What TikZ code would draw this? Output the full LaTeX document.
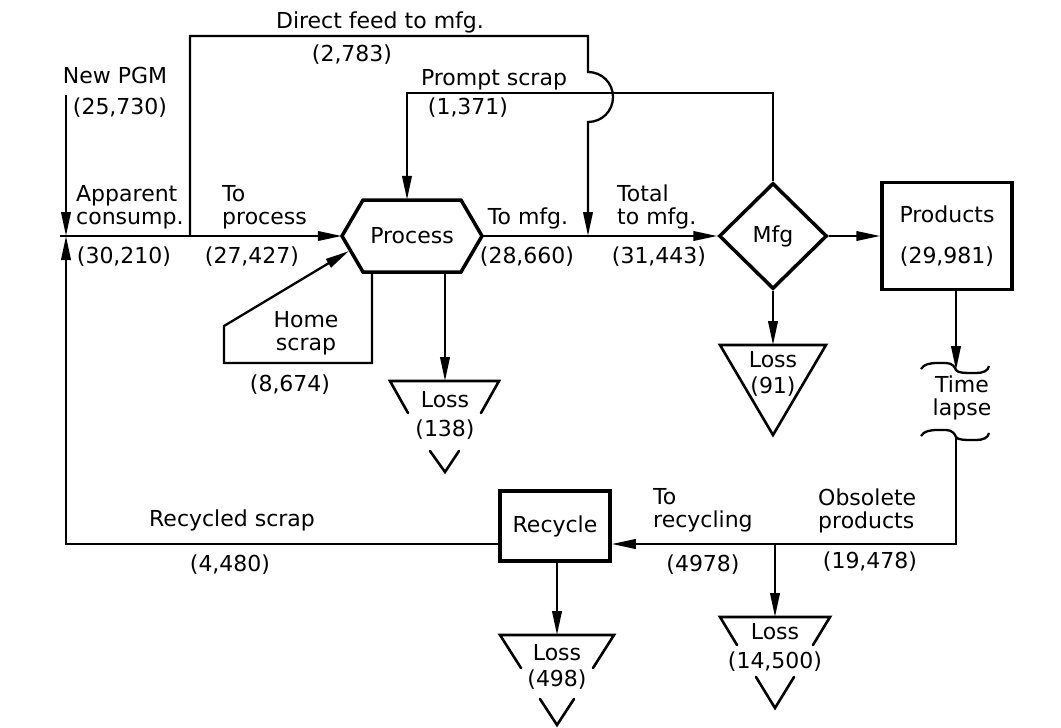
\documentclass[tikz,border=0pt]{standalone}
\usepackage{fontspec}
\setmainfont{DejaVu Sans}
\usetikzlibrary{arrows.meta,shapes.geometric,calc}
\begin{document}
\begin{tikzpicture}[x=1pt,y=-1pt,
  flow/.style={line width=2.3pt},
  arr/.style={flow,-{Triangle[length=24pt,width=9.5pt]}},
  box/.style={draw,line width=3.5pt,inner sep=0pt},
  lbl/.style={inner sep=0pt,font=\fontsize{22}{23}\selectfont,align=center},
  lbll/.style={lbl,align=left,anchor=west},
  tri/.style={line width=2.6pt,line cap=round,line join=miter},
]
\useasboundingbox (0,0) rectangle (1061,728);

% ---------- main shapes ----------
\node[lbl,minimum width=140pt,minimum height=72pt] (proc) at (412,236) {Process};
\draw[box] (342,236) -- (363,200) -- (461,200) -- (482,236) -- (461,272) -- (363,272) -- cycle;

\node[diamond,draw,line width=3.5pt,minimum width=108pt,minimum height=106pt,inner sep=0pt,lbl] (mfg) at (773,236) {Mfg};

\node[box,lbl,minimum width=130pt,minimum height=107pt] (prod) at (947,236) {Products\\[18pt](29,981)};

\node[box,lbl,minimum width=110pt,minimum height=70pt] (rec) at (555,526) {Recycle};

% ---------- coordinates ----------
\coordinate (start) at (60,236);
\coordinate (ac) at (66,236);
\coordinate (pgm) at (66,95);
\coordinate (df) at (190,236);
\coordinate (dftop) at (588,36);
\coordinate (dfa) at (588,72);
\coordinate (dfb) at (588,122);
\coordinate (dfin) at (588,236);
\coordinate (ps) at (407,93);
\coordinate (hs0) at (372,272);
\coordinate (hs1) at (224,363);
\coordinate (hs2) at (224,326);
\coordinate (hsin) at (349,251);
\coordinate (l138) at (445,381);
\coordinate (l91) at (773,345);
\coordinate (tl1) at (956,370);
\coordinate (tl2) at (956,437);
\coordinate (obs) at (956,544);
\coordinate (l14) at (775,617);
\coordinate (l498) at (557,635);

% ---------- connectors ----------
\draw[arr] (pgm) -- (ac);
\draw[arr] (start) -- (proc.west);
\draw[arr] (rec.west |- obs) -| (ac);
\draw[arr] (df) |- (dftop) -- (dfa)
  .. controls (602,72) and (613,83) .. (613,97)
  .. controls (613,111) and (602,122) .. (dfb) -- (dfin);
\draw[arr] (mfg.north) |- (ps) -- (ps |- proc.north);
\draw[arr] (proc.east) -- (mfg.west);
\draw[arr] (mfg.east) -- (prod.west);
\draw[arr] (mfg.south) -- (l91);
\draw[arr] (hs0) |- (hs1) -- (hs2) -- (hsin);
\draw[arr] (proc.south -| l138) -- (l138);
\draw[arr] (prod.south -| tl1) -- (tl1);
\draw[arr] (tl2) -- (obs) -- (obs -| rec.east);
\draw[arr] (l14 |- obs) -- (l14);
\draw[arr] (rec.south -| l498) -- (l498);

% time-lapse squiggles
\foreach \cy in {370,437}{
  \draw[flow] (921,\cy-1) .. controls (924,\cy-6) and (930,\cy-7) .. (938,\cy-7)
    -- (946,\cy-7) .. controls (952,\cy-7) and (955,\cy-3) .. (956,\cy)
    .. controls (958,\cy+3) and (964,\cy+3) .. (976,\cy+3)
    .. controls (983,\cy+3) and (988,\cy+1) .. (989,\cy-4);
}

% ---------- loss triangles ----------
\draw[tri] (720,345) -- (826,345) -- (773,435) -- cycle;
\draw[tri] (408,413) -- (390,381) -- (499,381) -- (481,413);
\draw[tri] (430,451) -- (445,472) -- (459,451);
\draw[tri] (737,645) -- (720,617) -- (830,617) -- (813,645);
\draw[tri] (756,677) -- (775,708) -- (794,677);
\draw[tri] (521,668) -- (500,635) -- (614,635) -- (593,668);
\draw[tri] (540,699) -- (557,725) -- (574,699);

% ---------- labels ----------
\node[lbl] (tnew) at (115,75) {New PGM};
\node[lbl] (vnew) at (120,108) {(25,730)};
\node[lbll] (tapp) at (76,207) {Apparent\\consump.};
\node[lbl] (vapp) at (124,257) {(30,210)};
\node[lbll] (ttop) at (222,207) {To\\process};
\node[lbl] (vtop) at (252,257) {(27,427)};
\node[lbl] (tdf) at (380,22) {Direct feed to mfg.};
\node[lbl] (vdf) at (352,55) {(2,783)};
\node[lbl] (tps) at (494,80) {Prompt scrap};
\node[lbl] (vps) at (468,108) {(1,371)};
\node[lbl] (ttm) at (528,218) {To mfg.};
\node[lbl] (vtm) at (527,257) {(28,660)};
\node[lbll] (ttot) at (617,207) {Total\\to mfg.};
\node[lbl] (vtot) at (659,257) {(31,443)};
\node[lbl] (ths) at (306,333) {Home\\scrap};
\node[lbl] (vhs) at (290,385) {(8,674)};
\node[lbl] (a138) at (445,400) {Loss};
\node[lbl] (b138) at (445,430) {(138)};
\node[lbl] (a91) at (773,360) {Loss};
\node[lbl] (b91) at (773,387) {(91)};
\node[lbl] (ttl) at (962,398) {Time\\lapse};
\node[lbl] (trs) at (232,520) {Recycled scrap};
\node[lbl] (vrs) at (230,565) {(4,480)};
\node[lbll] (ttr) at (653,510) {To\\recycling};
\node[lbl] (vtr) at (703,565) {(4978)};
\node[lbll] (tob) at (818,511) {Obsolete\\products};
\node[lbl] (vob) at (870,562) {(19,478)};
\node[lbl] (a14) at (775,632) {Loss};
\node[lbl] (b14) at (775,662) {(14,500)};
\node[lbl] (a498) at (557,653) {Loss};
\node[lbl] (b498) at (557,680) {(498)};
\end{tikzpicture}
\end{document}
